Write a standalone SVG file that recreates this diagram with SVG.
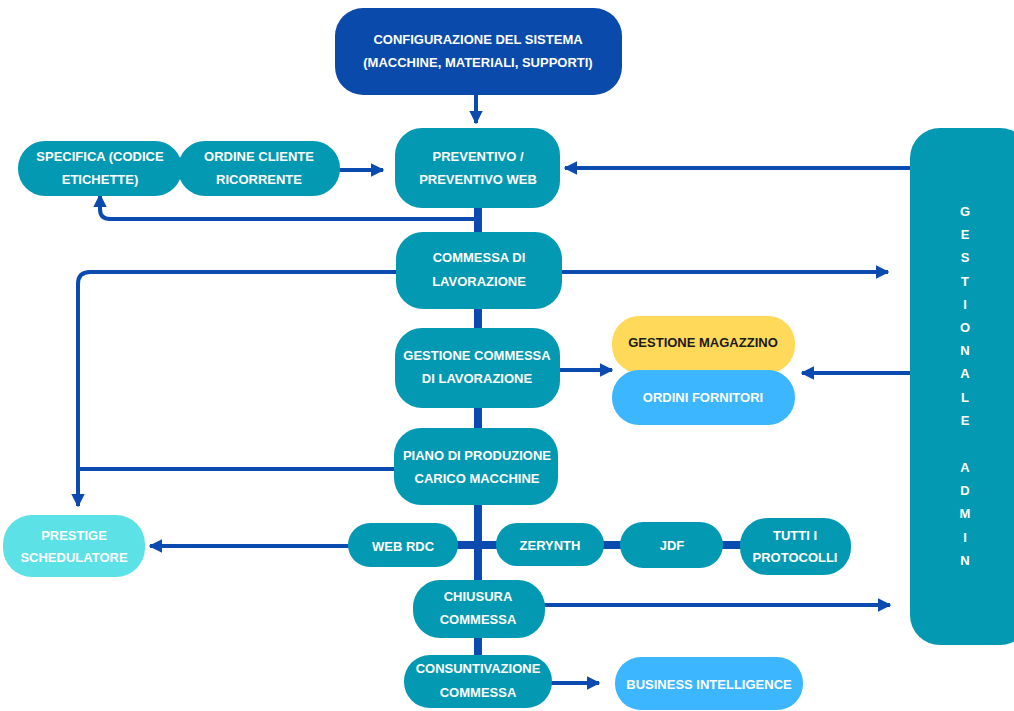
<svg xmlns="http://www.w3.org/2000/svg" width="1014" height="711" viewBox="0 0 1014 711">
<defs>
<marker id="ah" viewBox="0 0 10 10" refX="9" refY="5" markerWidth="3.4" markerHeight="4.2" orient="auto" markerUnits="strokeWidth"><path d="M0,0 L10,5 L0,10 Z" fill="#0B4AAF"/></marker>
<style>
.t{font-family:"Liberation Sans",Arial,sans-serif;font-weight:bold;font-size:13px;fill:#ffffff;text-anchor:middle}
.k{fill:#1a1a1a}
.teal{fill:#0399B3}
.c{fill:none;stroke:#0B4AAF;stroke-width:4;stroke-linejoin:round}
.thick{fill:none;stroke:#0B4AAF;stroke-width:8}
</style>
</defs>
<rect width="1014" height="711" fill="#ffffff"/>
<g id="connectors">
<line class="thick" x1="478" y1="205" x2="478" y2="662"/>
<line class="thick" x1="455" y1="545" x2="745" y2="545"/>
<line class="c" x1="476" y1="95" x2="476" y2="123" marker-end="url(#ah)"/>
<line class="c" x1="338" y1="170" x2="383" y2="170" marker-end="url(#ah)"/>
<line class="c" x1="912" y1="168" x2="565" y2="168" marker-end="url(#ah)"/>
<path class="c" d="M476,219 L110,219 Q100,219 100,209 L100,195" marker-end="url(#ah)"/>
<path class="c" d="M398,272 L90,272 Q78,272 78,284 L78,506" marker-end="url(#ah)"/>
<line class="c" x1="560" y1="272" x2="888" y2="272" marker-end="url(#ah)"/>
<line class="c" x1="558" y1="370" x2="612" y2="370" marker-end="url(#ah)"/>
<line class="c" x1="912" y1="373" x2="802" y2="373" marker-end="url(#ah)"/>
<line class="c" x1="396" y1="469" x2="78" y2="469"/>
<line class="c" x1="350" y1="546" x2="150" y2="546" marker-end="url(#ah)"/>
<line class="c" x1="543" y1="605" x2="890" y2="605" marker-end="url(#ah)"/>
<line class="c" x1="550" y1="683" x2="599" y2="683" marker-end="url(#ah)"/>
</g>
<g id="n-config"><rect x="335" y="8" width="287" height="87" rx="28" fill="#0A4AAA"/><text class="t" x="478" y="44">CONFIGURAZIONE DEL SISTEMA</text><text class="t" x="478" y="67">(MACCHINE, MATERIALI, SUPPORTI)</text></g>
<g id="n-preventivo"><rect class="teal" x="395" y="128" width="165" height="80" rx="27"/><text class="t" x="478" y="161">PREVENTIVO /</text><text class="t" x="478" y="184">PREVENTIVO WEB</text></g>
<g id="n-specifica"><rect class="teal" x="18" y="141" width="164" height="55" rx="27"/><text class="t" x="100" y="161">SPECIFICA (CODICE</text><text class="t" x="100" y="184">ETICHETTE)</text></g>
<g id="n-ordine"><rect class="teal" x="178" y="141" width="162" height="55" rx="27"/><text class="t" x="259" y="161">ORDINE CLIENTE</text><text class="t" x="259" y="184">RICORRENTE</text></g>
<g id="n-commessa"><rect class="teal" x="396" y="232" width="166" height="77" rx="27"/><text class="t" x="479" y="262">COMMESSA DI</text><text class="t" x="479" y="286">LAVORAZIONE</text></g>
<g id="n-gestione"><rect class="teal" x="395" y="328" width="165" height="80" rx="27"/><text class="t" x="477" y="360">GESTIONE COMMESSA</text><text class="t" x="477" y="383">DI LAVORAZIONE</text></g>
<g id="n-magazzino"><rect x="612" y="316" width="183" height="57" rx="27" fill="#FFD95A"/><text class="t k" x="703" y="347">GESTIONE MAGAZZINO</text></g>
<g id="n-fornitori"><rect x="612" y="370" width="183" height="55" rx="27" fill="#3BB6FF"/><text class="t" x="703" y="402">ORDINI FORNITORI</text></g>
<g id="n-piano"><rect class="teal" x="394" y="428" width="164" height="77" rx="27"/><text class="t" x="477" y="460">PIANO DI PRODUZIONE</text><text class="t" x="477" y="483">CARICO MACCHINE</text></g>
<g id="n-prestige"><rect x="3" y="515" width="142" height="62" rx="29" fill="#5CE1E6"/><text class="t" x="74" y="540">PRESTIGE</text><text class="t" x="74" y="562">SCHEDULATORE</text></g>
<g id="n-webrdc"><rect class="teal" x="348" y="523" width="110" height="44" rx="22"/><text class="t" x="403" y="551">WEB RDC</text></g>
<g id="n-zerynth"><rect class="teal" x="496" y="523" width="108" height="43" rx="21"/><text class="t" x="550" y="550">ZERYNTH</text></g>
<g id="n-jdf"><rect class="teal" x="620" y="522" width="103" height="46" rx="23"/><text class="t" x="672" y="550">JDF</text></g>
<g id="n-tutti"><rect class="teal" x="740" y="518" width="111" height="57" rx="27"/><text class="t" x="795" y="540">TUTTI I</text><text class="t" x="795" y="562">PROTOCOLLI</text></g>
<g id="n-chiusura"><rect class="teal" x="413" y="580" width="132" height="58" rx="27"/><text class="t" x="478" y="601">CHIUSURA</text><text class="t" x="478" y="624">COMMESSA</text></g>
<g id="n-consuntivazione"><rect class="teal" x="404" y="655" width="148" height="53" rx="26"/><text class="t" x="478" y="673">CONSUNTIVAZIONE</text><text class="t" x="478" y="697">COMMESSA</text></g>
<g id="n-bi"><rect x="615" y="657" width="188" height="53" rx="26" fill="#3BB6FF"/><text class="t" x="709" y="689">BUSINESS INTELLIGENCE</text></g>
<g id="n-gestionale"><rect class="teal" x="910" y="128" width="120" height="517" rx="30"/>
<text class="t" x="965" y="216">G</text><text class="t" x="965" y="239">E</text><text class="t" x="965" y="262">S</text><text class="t" x="965" y="286">T</text><text class="t" x="965" y="309">I</text><text class="t" x="965" y="332">O</text><text class="t" x="965" y="355">N</text><text class="t" x="965" y="378">A</text><text class="t" x="965" y="402">L</text><text class="t" x="965" y="425">E</text><text class="t" x="965" y="472">A</text><text class="t" x="965" y="495">D</text><text class="t" x="965" y="518">M</text><text class="t" x="965" y="542">I</text><text class="t" x="965" y="565">N</text></g>
</svg>
